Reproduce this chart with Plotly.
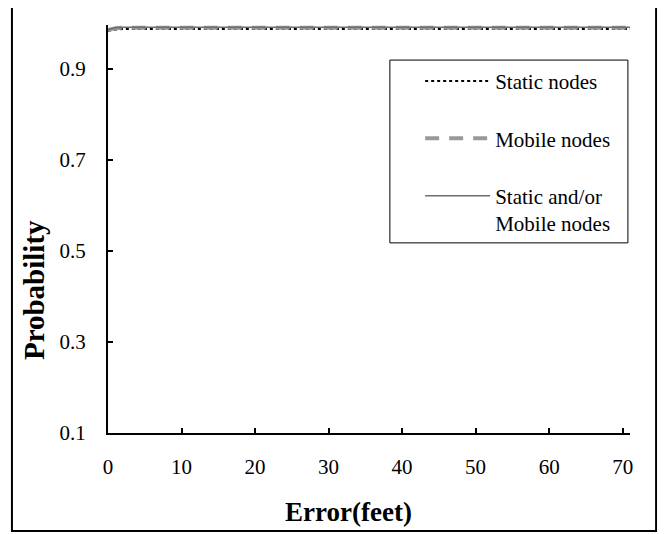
import plotly.graph_objects as go

error_ft = [0, 1, 2, 3, 4, 5, 10, 15, 20, 25, 30, 35, 40, 45, 50, 55, 60, 65, 70, 71]
static_nodes = [0.984, 0.987, 0.988, 0.988, 0.988, 0.988, 0.988, 0.988, 0.988, 0.988,
                0.988, 0.988, 0.988, 0.988, 0.988, 0.988, 0.988, 0.988, 0.988, 0.988]
mobile_nodes = [0.986, 0.990, 0.991, 0.991, 0.991, 0.991, 0.991, 0.991, 0.991, 0.991,
                0.991, 0.991, 0.991, 0.991, 0.991, 0.991, 0.991, 0.991, 0.991, 0.991]
static_mobile = [0.987, 0.991, 0.992, 0.992, 0.992, 0.992, 0.992, 0.992, 0.992, 0.992,
                 0.992, 0.992, 0.992, 0.992, 0.992, 0.992, 0.992, 0.992, 0.992, 0.992]
x_ticks = [0, 10, 20, 30, 40, 50, 60, 70]
y_ticks = [0.1, 0.3, 0.5, 0.7, 0.9]
y_tick_labels = ["0.1", "0.3", "0.5", "0.7", "0.9"]

FONT = "Liberation Serif, Times New Roman, serif"

fig = go.Figure()
fig.add_trace(go.Scatter(x=error_ft, y=static_nodes, mode="lines", name="Static nodes",
                         line=dict(color="black", width=2, dash="dot"), legendgroup="a"))
fig.add_trace(go.Scatter(x=error_ft, y=mobile_nodes, mode="lines", name="Mobile nodes",
                         line=dict(color="#999999", width=4, dash="14px,10px"), legendgroup="b"))
fig.add_trace(go.Scatter(x=error_ft, y=static_mobile, mode="lines",
                         name="Static and/or<br>Mobile nodes",
                         line=dict(color="#6e6e6e", width=1.5), legendgroup="c"))

# page is rendered with an 8px body margin, so the figure is 8px smaller
fig.update_layout(
    width=657, height=526,
    margin=dict(l=100, r=35, t=17, b=101),
    paper_bgcolor="white", plot_bgcolor="white",
    font=dict(family=FONT, size=21, color="black"),
    showlegend=True,
    legend=dict(x=0.598, y=0.912, xanchor="left", yanchor="top",
                bgcolor="rgba(0,0,0,0)", borderwidth=0,
                font=dict(family=FONT, size=21, color="black"),
                tracegroupgap=27, itemwidth=65, traceorder="grouped", valign="top"),
    xaxis=dict(range=[0, 71], tickvals=x_ticks, ticks="inside", ticklen=5, tickwidth=2,
               tickcolor="black", showline=True, linecolor="black", linewidth=2,
               showgrid=False, zeroline=False, ticklabelstandoff=14,
               tickfont=dict(family=FONT, size=21)),
    yaxis=dict(range=[0.1, 0.997], tickvals=y_ticks, ticktext=y_tick_labels,
               ticks="inside", ticklen=5, tickwidth=2, tickcolor="black",
               showline=True, linecolor="black", linewidth=2, showgrid=False, zeroline=False,
               ticklabelstandoff=16, tickfont=dict(family=FONT, size=21)),
    annotations=[
        dict(text="<b>Error(feet)</b>", xref="paper", yref="paper", x=0.46, y=-0.194,
             xanchor="center", yanchor="middle", showarrow=False,
             font=dict(family=FONT, size=27, color="black")),
        dict(text="<b>Probability</b>", xref="paper", yref="paper", x=-0.142, y=0.350,
             xanchor="center", yanchor="middle", showarrow=False, textangle=-90,
             font=dict(family=FONT, size=29, color="black")),
    ],
    shapes=[
        dict(type="rect", xref="paper", yref="paper", x0=-0.184, x1=1.050, y0=-0.240, y1=1.049,
             line=dict(color="black", width=2), fillcolor="rgba(0,0,0,0)", layer="above"),
        dict(type="rect", xref="paper", yref="paper", x0=0.540, x1=0.996, y0=0.466, y1=0.914,
             line=dict(color="black", width=1), fillcolor="rgba(0,0,0,0)", layer="above"),
    ],
)

fig.write_html("out.html")
